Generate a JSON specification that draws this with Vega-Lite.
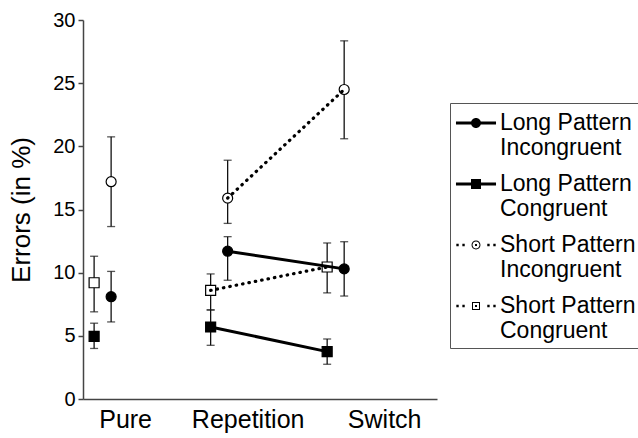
{
  "$schema": "https://vega.github.io/schema/vega-lite/v6.json",
  "width": 354,
  "height": 379,
  "autosize": {"type": "none"},
  "padding": {"left": 83, "top": 20, "right": 201, "bottom": 39},
  "config": {"view": {"stroke": null}, "font": "Liberation Sans", "axis": {"grid": false}},
  "data": {"values": [
    {"condition": "Pure", "series": "Long Pattern|Incongruent", "pattern": "Long", "congruency": "Incongruent", "mean": 8.1, "lo": 6.1, "hi": 10.1},
    {"condition": "Pure", "series": "Long Pattern|Congruent", "pattern": "Long", "congruency": "Congruent", "mean": 4.95, "lo": 4.0, "hi": 6.0},
    {"condition": "Pure", "series": "Short Pattern|Incongruent", "pattern": "Short", "congruency": "Incongruent", "mean": 17.2, "lo": 13.65, "hi": 20.75},
    {"condition": "Pure", "series": "Short Pattern|Congruent", "pattern": "Short", "congruency": "Congruent", "mean": 9.2, "lo": 6.9, "hi": 11.3},
    {"condition": "Repetition", "series": "Long Pattern|Incongruent", "pattern": "Long", "congruency": "Incongruent", "mean": 11.7, "lo": 9.4, "hi": 12.85},
    {"condition": "Repetition", "series": "Long Pattern|Congruent", "pattern": "Long", "congruency": "Congruent", "mean": 5.7, "lo": 4.25, "hi": 7.05},
    {"condition": "Repetition", "series": "Short Pattern|Incongruent", "pattern": "Short", "congruency": "Incongruent", "mean": 15.9, "lo": 13.9, "hi": 18.9},
    {"condition": "Repetition", "series": "Short Pattern|Congruent", "pattern": "Short", "congruency": "Congruent", "mean": 8.6, "lo": 7.05, "hi": 9.9},
    {"condition": "Switch", "series": "Long Pattern|Incongruent", "pattern": "Long", "congruency": "Incongruent", "mean": 10.3, "lo": 8.15, "hi": 12.45},
    {"condition": "Switch", "series": "Long Pattern|Congruent", "pattern": "Long", "congruency": "Congruent", "mean": 3.75, "lo": 2.75, "hi": 4.75},
    {"condition": "Switch", "series": "Short Pattern|Incongruent", "pattern": "Short", "congruency": "Incongruent", "mean": 24.5, "lo": 20.6, "hi": 28.35},
    {"condition": "Switch", "series": "Short Pattern|Congruent", "pattern": "Short", "congruency": "Congruent", "mean": 10.45, "lo": 8.4, "hi": 12.35}
  ]},
  "encoding": {
    "x": {
      "field": "condition",
      "type": "nominal",
      "sort": ["Pure", "Repetition", "Switch"],
      "scale": {"domain": ["Pure", "Repetition", "Switch"], "paddingInner": 0.708, "paddingOuter": 0.373, "align": 0.03},
      "axis": {
        "title": null,
        "ticks": false,
        "labelAngle": 0,
        "labelFontSize": 25,
        "labelColor": "black",
        "labelPadding": 8,
        "domainColor": "#444",
        "domainWidth": 1.5,
        "labelOffset": {"condition": [{"test": "datum.value === 'Switch'", "value": 49}, {"test": "datum.value === 'Pure'", "value": 23}], "value": 29}
      }
    },
    "y": {
      "field": "mean",
      "type": "quantitative",
      "scale": {"domain": [0, 30], "nice": false},
      "axis": {
        "title": "Errors (in %)",
        "values": [0, 5, 10, 15, 20, 25, 30],
        "titleFontSize": 26,
        "titleFontWeight": "normal",
        "titleColor": "black",
        "titlePadding": 18,
        "labelFontSize": 20,
        "labelColor": "black",
        "labelPadding": 3,
        "tickSize": 5,
        "tickColor": "#444",
        "tickWidth": 1.5,
        "domainColor": "#444",
        "domainWidth": 1.5
      }
    }
  },
  "layer": [
    {
      "data": {"values": [{}]},
      "mark": {"type": "rule", "strokeDash": [4, 3], "color": "#333", "strokeWidth": 1.3},
      "encoding": {
        "x": {"datum": "Pure", "bandPosition": 2.49},
        "y": {"datum": 0},
        "y2": {"datum": 29.7}
      }
    },
    {
      "mark": {"type": "rule", "color": "#111", "strokeWidth": 1.3},
      "encoding": {
        "xOffset": {"field": "congruency", "type": "nominal", "scale": {"domain": ["Congruent", "Incongruent"], "paddingInner": 0, "paddingOuter": 0}},
        "y": {"field": "lo", "type": "quantitative"},
        "y2": {"field": "hi"}
      }
    },
    {
      "mark": {"type": "tick", "orient": "horizontal", "size": 8, "thickness": 1.3, "color": "#111"},
      "encoding": {
        "xOffset": {"field": "congruency", "type": "nominal"},
        "y": {"field": "hi", "type": "quantitative"}
      }
    },
    {
      "mark": {"type": "tick", "orient": "horizontal", "size": 8, "thickness": 1.3, "color": "#111"},
      "encoding": {
        "xOffset": {"field": "congruency", "type": "nominal"},
        "y": {"field": "lo", "type": "quantitative"}
      }
    },
    {
      "mark": {"type": "point", "filled": true, "size": 100, "stroke": "black", "strokeWidth": 1.2, "opacity": 1},
      "encoding": {
        "xOffset": {"field": "congruency", "type": "nominal"},
        "shape": {"field": "congruency", "type": "nominal", "scale": {"domain": ["Congruent", "Incongruent"], "range": ["square", "circle"]}, "legend": null},
        "fill": {"field": "pattern", "type": "nominal", "scale": {"domain": ["Long", "Short"], "range": ["black", "white"]}, "legend": null}
      }
    },
    {
      "transform": [{"filter": "datum.pattern === 'Long' && datum.condition !== 'Pure'"}],
      "mark": {"type": "line", "color": "black", "strokeWidth": 3},
      "encoding": {
        "xOffset": {"field": "congruency", "type": "nominal"},
        "detail": {"field": "series", "type": "nominal"}
      }
    },
    {
      "transform": [{"filter": "datum.pattern === 'Short' && datum.condition !== 'Pure'"}],
      "mark": {"type": "line", "color": "black", "strokeWidth": 3.2, "strokeDash": [0.5, 6], "strokeCap": "round"},
      "encoding": {
        "xOffset": {"field": "congruency", "type": "nominal"},
        "detail": {"field": "series", "type": "nominal"}
      }
    },
    {
      "mark": {"type": "point", "filled": true, "color": "black", "opacity": 0},
      "encoding": {
        "xOffset": {"field": "congruency", "type": "nominal"},
        "shape": {
          "field": "series",
          "type": "nominal",
          "scale": {
            "domain": ["Long Pattern|Incongruent", "Long Pattern|Congruent", "Short Pattern|Incongruent", "Short Pattern|Congruent"],
            "range": [
              "M-1.43,-0.107H1.43V0.107H-1.43Z M0.357,0A0.357,0.357 0 1,1 -0.357,0A0.357,0.357 0 1,1 0.357,0Z",
              "M-1.43,-0.107H1.43V0.107H-1.43Z M-0.357,-0.357H0.357V0.357H-0.357Z",
              "M-1.405,-0.085h0.17v0.17h-0.17Z M-0.975,-0.085h0.17v0.17h-0.17Z M0.805,-0.085h0.17v0.17h-0.17Z M1.235,-0.085h0.17v0.17h-0.17Z M0.32,0A0.32,0.32 0 1,1 -0.32,0A0.32,0.32 0 1,1 0.32,0Z M0.25,0A0.25,0.25 0 1,0 -0.25,0A0.25,0.25 0 1,0 0.25,0Z M-0.07,-0.07h0.14v0.14h-0.14Z",
              "M-1.405,-0.085h0.17v0.17h-0.17Z M-0.975,-0.085h0.17v0.17h-0.17Z M0.805,-0.085h0.17v0.17h-0.17Z M1.235,-0.085h0.17v0.17h-0.17Z M-0.286,-0.286H0.286V0.286H-0.286Z M-0.214,-0.214V0.214H0.214V-0.214Z M-0.07,-0.07h0.14v0.14h-0.14Z"
            ]
          },
          "legend": {
            "title": null,
            "orient": "none",
            "legendX": 367,
            "legendY": 83,
            "symbolSize": 784,
            "symbolOffset": 6,
            "labelFontSize": 23,
            "labelColor": "black",
            "labelExpr": "split(datum.label, '|')",
            "labelOffset": 9,
            "labelLimit": 300,
            "padding": 5,
            "strokeColor": "#555",
            "fillColor": "white",
            "rowPadding": 9,
            "symbolOpacity": 1
          }
        }
      }
    }
  ],
  "resolve": {"scale": {"shape": "independent"}}
}
